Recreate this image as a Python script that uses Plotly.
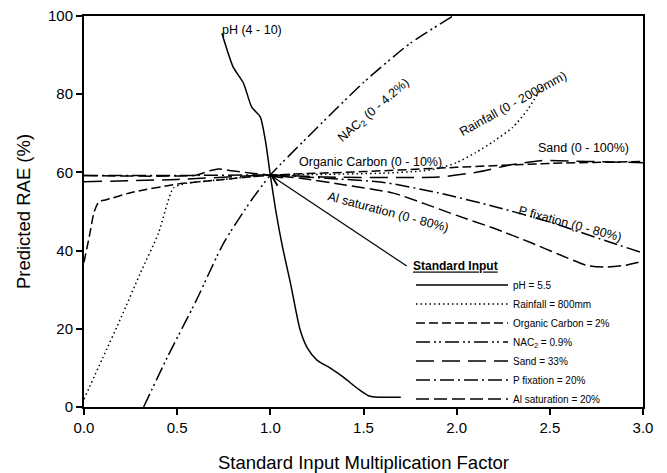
import plotly.graph_objects as go

# ---------------- data ----------------
ph_x = [0.74, 0.80, 0.856, 0.90, 0.946, 0.973, 1.0, 1.03, 1.065, 1.108, 1.16, 1.20, 1.25, 1.32, 1.39, 1.44, 1.48, 1.53, 1.58, 1.70]
ph_y = [95.6, 87.0, 82.8, 76.7, 74.2, 68.3, 59.3, 50.0, 41.0, 31.7, 19.7, 15.0, 12.0, 10.0, 7.7, 5.8, 4.3, 2.8, 2.5, 2.5]

rain_x = [0.0, 0.1, 0.2, 0.3, 0.4, 0.48, 0.55, 0.75, 1.0, 1.3, 1.6, 1.8, 1.9, 2.0, 2.1, 2.2, 2.3, 2.38, 2.46]
rain_y = [2.0, 12.5, 23.0, 34.0, 44.5, 56.0, 57.2, 58.2, 59.3, 59.5, 59.8, 60.3, 61.0, 62.5, 65.0, 68.0, 71.5, 76.0, 82.0]

oc_x = [0.0, 0.03, 0.055, 0.08, 0.12, 0.25, 0.5, 0.75, 1.0, 1.5, 2.0, 2.5, 3.0]
oc_y = [37.0, 44.0, 50.0, 52.5, 53.0, 54.8, 57.0, 58.2, 59.3, 60.2, 61.3, 62.3, 62.8]

nac_x = [0.32, 0.45, 0.60, 0.75, 0.90, 1.0, 1.2, 1.5, 1.75, 1.98]
nac_y = [0.0, 13.0, 27.0, 42.0, 53.0, 59.3, 69.0, 83.0, 93.0, 100.0]

sand_x = [0.0, 0.5, 1.0, 1.3, 1.9, 2.1, 2.3, 2.45, 2.7, 3.0]
sand_y = [57.6, 58.2, 59.3, 58.8, 58.8, 60.0, 62.0, 63.0, 62.8, 62.5]

pfix_x = [0.0, 0.5, 1.0, 1.3, 1.6, 1.9, 2.2, 2.5, 2.8, 3.0]
pfix_y = [59.2, 59.2, 59.3, 58.5, 57.5, 54.8, 51.3, 47.3, 42.5, 39.4]

al_x = [0.0, 0.6, 0.68, 0.72, 0.78, 0.9, 1.0, 1.16, 1.4, 1.66, 2.0, 2.2, 2.4, 2.55, 2.7, 2.8, 2.9, 3.0]
al_y = [59.2, 59.3, 60.5, 60.9, 60.5, 59.8, 59.3, 58.5, 56.8, 54.7, 49.0, 45.7, 42.0, 39.0, 36.2, 35.8, 36.2, 37.3]

legend_names = ["pH = 5.5", "Rainfall = 800mm", "Organic Carbon = 2%", "NAC<sub>2</sub> = 0.9%",
                "Sand = 33%", "P fixation = 20%", "Al saturation = 20%"]

x_ticks = [0.0, 0.5, 1.0, 1.5, 2.0, 2.5, 3.0]
y_ticks = [0, 20, 40, 60, 80, 100]

# curve labels: text, x, y, angle
label_text = ["pH (4 - 10)", "NAC<sub>2</sub> (0 - 4.2%)", "Rainfall (0 - 2000mm)", "Organic Carbon (0 - 10%)",
              "Sand (0 - 100%)", "Al saturation (0 - 80%)", "P fixation (0 - 80%)"]
label_x = [0.90, 1.555, 2.30, 1.54, 2.68, 1.63, 2.61]
label_y = [96.3, 75.8, 77.5, 62.6, 66.2, 49.9, 46.8]
label_angle = [0, -41, -29, 0, 0, 15, 15]

# standard input point (arrow head) and arrow tail
std_x, std_y = 1.0, 59.3
tail_x, tail_y = 1.74, 35.8

# ---------------- figure ----------------
series = [
    (ph_x, ph_y, "solid"),
    (rain_x, rain_y, "1.5px,3px"),
    (oc_x, oc_y, "9px,4px"),
    (nac_x, nac_y, "14px,4px,2px,3px,2px,4px"),
    (sand_x, sand_y, "18px,8px"),
    (pfix_x, pfix_y, "14px,4px,2px,4px"),
    (al_x, al_y, "13px,5px"),
]

fig = go.Figure()
for (xs, ys, dash), name in zip(series, legend_names):
    fig.add_trace(go.Scatter(x=xs, y=ys, mode="lines", name=name,
                             line=dict(color="black", width=1.5, dash=dash, shape="spline", smoothing=0.6)))

FONT = "Liberation Sans, Arial, sans-serif"

for t, x, y, a in zip(label_text, label_x, label_y, label_angle):
    fig.add_annotation(x=x, y=y, text=t, textangle=a, showarrow=False,
                       font=dict(family=FONT, size=12.5, color="black"))

fig.add_annotation(x=std_x, y=std_y, ax=tail_x, ay=tail_y, axref="x", ayref="y",
                   text="", showarrow=True, arrowhead=5, arrowsize=1.6, arrowwidth=1.2,
                   arrowcolor="black")

fig.update_layout(
    width=667, height=473,
    margin=dict(l=84, r=24, t=16, b=66, autoexpand=False),
    paper_bgcolor="white", plot_bgcolor="white",
    font=dict(family=FONT, color="black"),
    showlegend=True,
    legend=dict(
        x=0.585, y=0.389, xanchor="left", yanchor="top",
        bgcolor="rgba(0,0,0,0)", borderwidth=0,
        font=dict(family=FONT, size=10, color="black"),
        itemwidth=92,
        title=dict(text="<b><span style='text-decoration:underline'>Standard Input</span></b>",
                   font=dict(family=FONT, size=12, color="black")),
    ),
    xaxis=dict(range=[0, 3], tickvals=x_ticks, tickformat=".1f",
               ticks="outside", ticklen=6, tickwidth=1.5, tickcolor="black",
               showline=True, linewidth=2, linecolor="black", mirror=True,
               showgrid=False, zeroline=False,
               tickfont=dict(family=FONT, size=15, color="black"),
               title=dict(text="Standard Input Multiplication Factor", standoff=22,
                          font=dict(family=FONT, size=18.5, color="black"))),
    yaxis=dict(range=[0, 100], tickvals=y_ticks,
               ticks="outside", ticklen=6, tickwidth=1.5, tickcolor="black",
               showline=True, linewidth=2, linecolor="black", mirror=True,
               showgrid=False, zeroline=False,
               tickfont=dict(family=FONT, size=15, color="black"),
               title=dict(text="Predicted RAE (%)", standoff=12,
                          font=dict(family=FONT, size=18.5, color="black"))),
)

fig.write_html("out.html")
